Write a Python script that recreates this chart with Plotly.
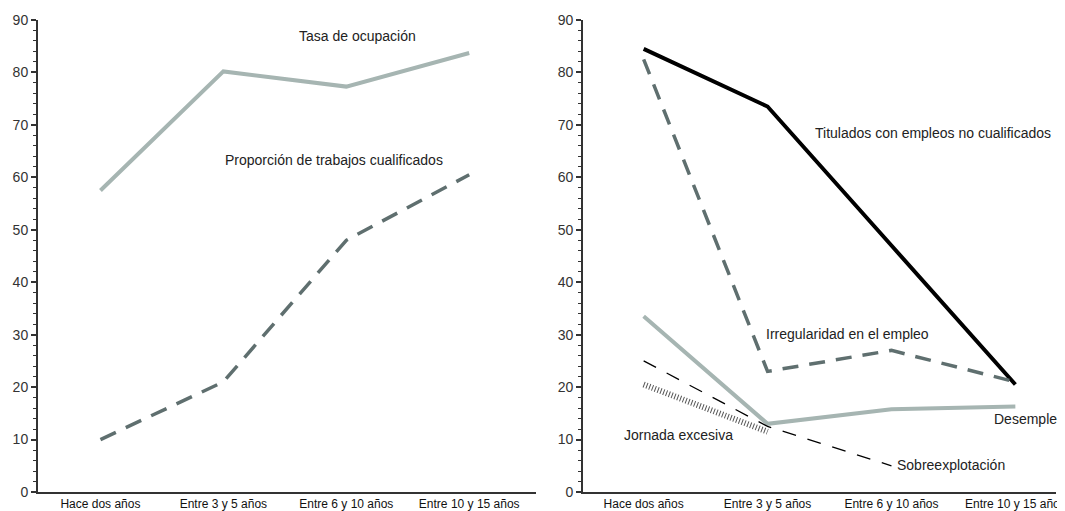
import plotly.graph_objects as go

categories = ["Hace dos años", "Entre 3 y 5 años", "Entre 6 y 10 años", "Entre 10 y 15 años"]

# Left panel
tasa_ocupacion = [57.5, 80.2, 77.3, 83.7]
proporcion_cualificados = [10, 21, 48, 60.5]

# Right panel
titulados_no_cualificados = [84.5, 73.5, 47, 20.5]
irregularidad = [82.5, 23, 27, 21]
desempleo = [33.5, 13, 15.8, 16.3]
sobreexplotacion = [25, 12.5, 5, None]
jornada_excesiva = [20.5, 11.5, None, None]

y_ticks = [0, 10, 20, 30, 40, 50, 60, 70, 80, 90]

FONT = "Liberation Sans, Arial, sans-serif"
NARROW = "Liberation Sans Narrow, Arial Narrow, Liberation Sans, Arial, sans-serif"

fig = go.Figure()

def add(x, y, xa, ya, color, width, dash="solid"):
    fig.add_trace(go.Scatter(x=x, y=y, xaxis=xa, yaxis=ya, mode="lines",
                             line=dict(color=color, width=width, dash=dash),
                             connectgaps=False, showlegend=False, hoverinfo="skip"))

add(categories, tasa_ocupacion, "x", "y", "#a6b5b2", 4)
add(categories, proporcion_cualificados, "x", "y", "#5f6f6f", 3.5, "17px,11px")

add(categories, titulados_no_cualificados, "x2", "y2", "#000000", 4)
add(categories, irregularidad, "x2", "y2", "#5f6f6f", 3.5, "16px,11px")
add(categories, desempleo, "x2", "y2", "#a6b5b2", 4)
add(categories, sobreexplotacion, "x2", "y2", "#000000", 1.3, "14px,12px")
add(categories, jornada_excesiva, "x2", "y2", "#555555", 6, "1px,2px")

yax = dict(range=[0, 90], tickvals=y_ticks, showline=True, linecolor="#333333", linewidth=2,
           ticks="outside", ticklen=5, tickwidth=1.5, tickcolor="#333333",
           minor=dict(dtick=2, ticks="outside", ticklen=3, tickwidth=1, tickcolor="#333333"),
           showgrid=False, zeroline=False, tickfont=dict(family=FONT, size=14, color="#333333"),
           fixedrange=True)
xax = dict(type="category", showline=True, linecolor="#333333", linewidth=1.5, ticks="",
           showgrid=False, zeroline=False, tickfont=dict(family=NARROW, size=12, color="#111111"),
           fixedrange=True)

W = 1027.0
fig.update_layout(
    width=1057, height=503,
    margin=dict(l=30, r=0, t=12, b=18),
    paper_bgcolor="white", plot_bgcolor="white",
    xaxis=dict(xax, domain=[0, (540 - 38) / W], range=[-0.508, 3.54], anchor="y"),
    yaxis=dict(yax, anchor="x"),
    xaxis2=dict(xax, domain=[(588 - 38) / W, 1], range=[-0.488, 3.328], anchor="y2"),
    yaxis2=dict(yax, anchor="x2"),
)

def ann(text, x, y, xref, yref, xanchor="left"):
    fig.add_annotation(text=text, x=x, y=y, xref=xref, yref=yref, showarrow=False,
                       xanchor=xanchor, yanchor="middle",
                       font=dict(family=FONT, size=14, color="#222222"))

ann("Tasa de ocupación", 2.09, 86.9, "x", "y", "center")
ann("Proporción de trabajos cualificados", 1.90, 63.3, "x", "y", "center")
ann("Titulados con empleos no cualificados", 1.368, 68.4, "x2", "y2")
ann("Irregularidad en el empleo", 0.968, 30.2, "x2", "y2")
ann("Desempleo", 2.81, 13.9, "x2", "y2")
ann("Sobreexplotación", 2.032, 5.1, "x2", "y2")
ann("Jornada excesiva", -0.176, 10.8, "x2", "y2")

fig.write_html("out.html")
